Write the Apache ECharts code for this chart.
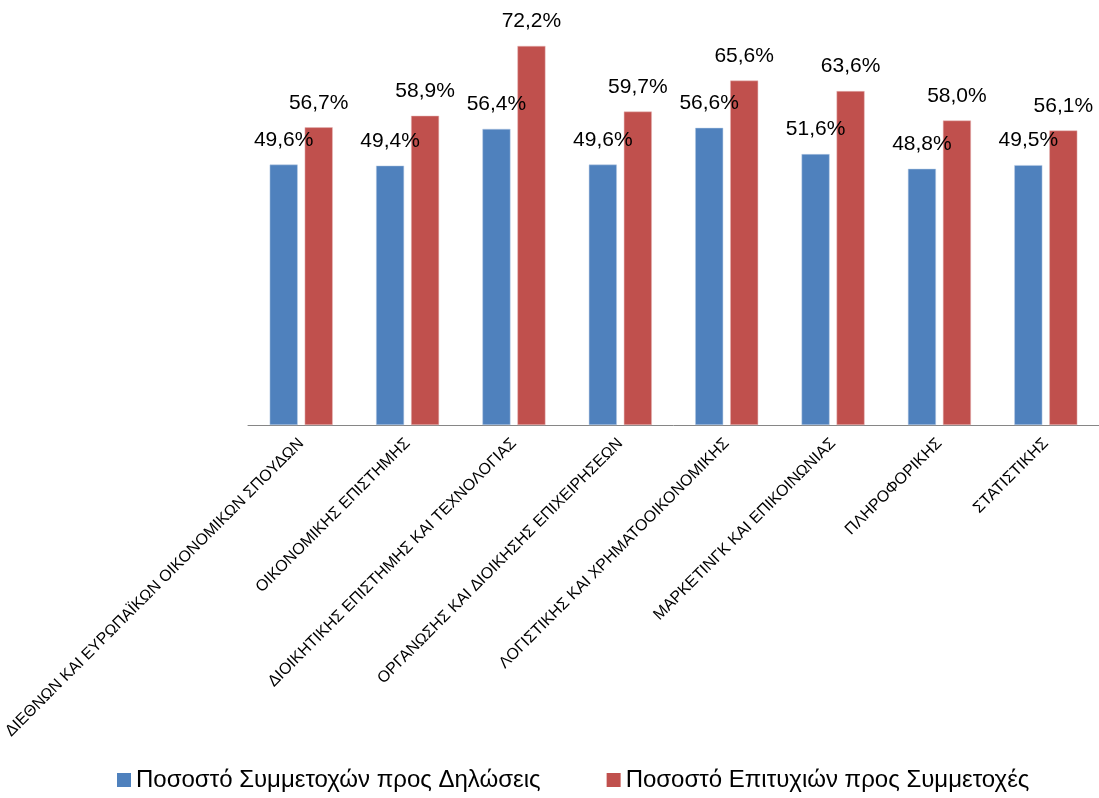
<!DOCTYPE html>
<html>
<head>
<meta charset="utf-8">
<script src="https://cdn.jsdelivr.net/npm/echarts@6/dist/echarts.min.js"></script>
<style>
html,body{margin:0;padding:0;background:#fff;}
#chart{width:1099px;height:798px;}
</style>
</head>
<body>
<div id="chart"></div>
<script>
const categories = [
  'ΔΙΕΘΝΩΝ ΚΑΙ ΕΥΡΩΠΑΪΚΩΝ ΟΙΚΟΝΟΜΙΚΩΝ ΣΠΟΥΔΩΝ',
  'ΟΙΚΟΝΟΜΙΚΗΣ ΕΠΙΣΤΗΜΗΣ',
  'ΔΙΟΙΚΗΤΙΚΗΣ ΕΠΙΣΤΗΜΗΣ ΚΑΙ ΤΕΧΝΟΛΟΓΙΑΣ',
  'ΟΡΓΑΝΩΣΗΣ ΚΑΙ ΔΙΟΙΚΗΣΗΣ ΕΠΙΧΕΙΡΗΣΕΩΝ',
  'ΛΟΓΙΣΤΙΚΗΣ ΚΑΙ ΧΡΗΜΑΤΟΟΙΚΟΝΟΜΙΚΗΣ',
  'ΜΑΡΚΕΤΙΝΓΚ ΚΑΙ ΕΠΙΚΟΙΝΩΝΙΑΣ',
  'ΠΛΗΡΟΦΟΡΙΚΗΣ',
  'ΣΤΑΤΙΣΤΙΚΗΣ'
];
const seriesNames = ['Ποσοστό Συμμετοχών προς Δηλώσεις', 'Ποσοστό Επιτυχιών προς Συμμετοχές'];
const participation = [49.6, 49.4, 56.4, 49.6, 56.6, 51.6, 48.8, 49.5];
const success = [56.7, 58.9, 72.2, 59.7, 65.6, 63.6, 58.0, 56.1];

const fmt = p => p.value.toFixed(1).replace('.', ',') + '%';
const font = 'Liberation Sans, Arial, sans-serif';

const chart = echarts.init(document.getElementById('chart'));
chart.setOption({
  animation: false,
  textStyle: {fontFamily: font},
  grid: {left: 248, right: 0, top: 5, bottom: 373, containLabel: false},
  legend: {
    bottom: 1,
    left: 112,
    itemWidth: 14, itemHeight: 14, itemGap: 66,
    icon: 'rect',
    itemStyle: {borderWidth: 0},
    textStyle: {fontSize: 24, color: '#000', fontFamily: font},
    data: seriesNames
  },
  xAxis: {
    type: 'category',
    data: categories,
    axisLine: {lineStyle: {color: '#868686', width: 1}},
    axisTick: {show: false},
    axisLabel: {rotate: 45, interval: 0, fontSize: 16, color: '#000', margin: 16, fontFamily: font}
  },
  yAxis: {
    type: 'value', min: 0, max: 80,
    show: false,
    splitLine: {show: false}
  },
  series: [
    {
      name: seriesNames[0], type: 'bar', data: participation,
      barWidth: 28, barGap: '25%',
      itemStyle: {color: '#4F81BD', borderColor: '#B9CDE5', borderWidth: 0.5},
      label: {show: true, position: 'top', distance: 14, formatter: fmt, fontSize: 21, color: '#000', fontFamily: font}
    },
    {
      name: seriesNames[1], type: 'bar', data: success,
      barWidth: 28,
      itemStyle: {color: '#C0504D', borderColor: '#E6B9B8', borderWidth: 0.5},
      label: {show: true, position: 'top', distance: 14, formatter: fmt, fontSize: 21, color: '#000', fontFamily: font}
    }
  ]
});
</script>
</body>
</html>
